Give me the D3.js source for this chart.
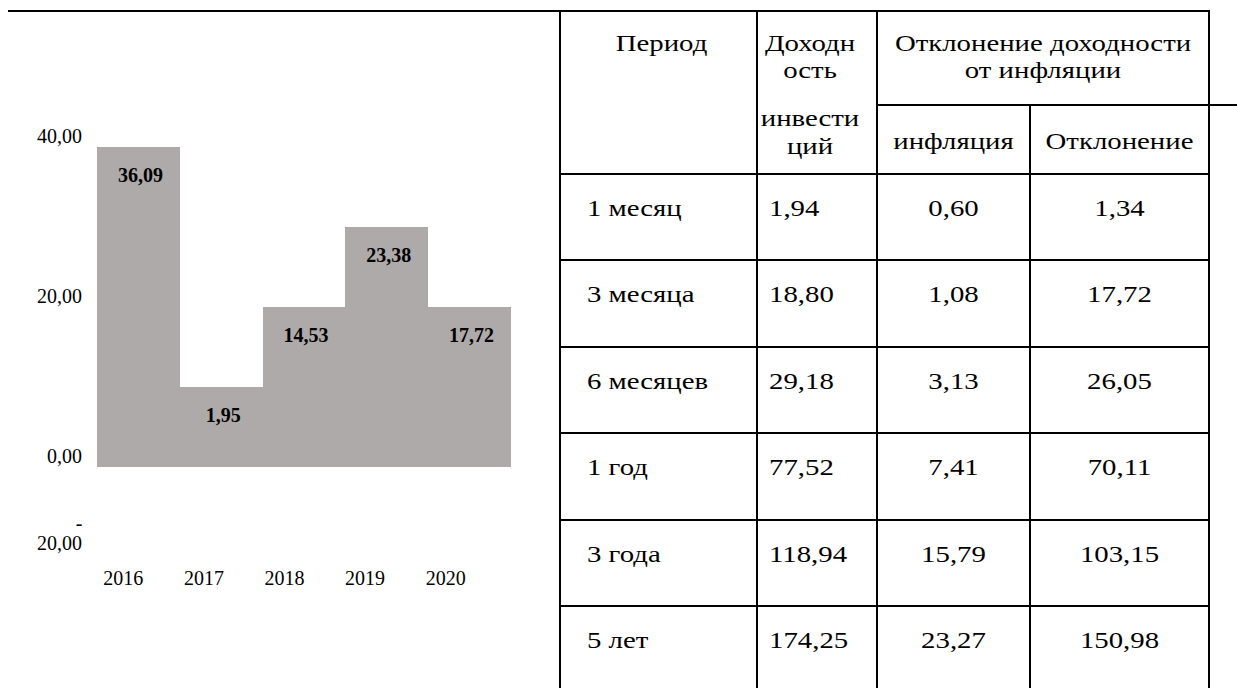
<!DOCTYPE html>
<html lang="ru">
<head>
<meta charset="utf-8">
<script src="https://cdn.jsdelivr.net/npm/d3@7"></script>
<style>
  html, body { margin: 0; padding: 0; background: #fff; }
  svg { display: block; font-family: "Liberation Serif", "Times New Roman", serif; }
</style>
</head>
<body>
<svg id="chart" width="1237" height="688"></svg>
<script>
// ---- data ----
const years = ['2016', '2017', '2018', '2019', '2020'];
const barHeights = [40, 10, 20, 30, 20];          // bar tops as drawn in the picture
const barLabels = ['36,09', '1,95', '14,53', '23,38', '17,72'];
const yTicks = [40, 20, 0, -20];

const periods = ['1 месяц', '3 месяца', '6 месяцев', '1 год', '3 года', '5 лет'];
const returns = ['1,94', '18,80', '29,18', '77,52', '118,94', '174,25'];
const inflation = ['0,60', '1,08', '3,13', '7,41', '15,79', '23,27'];
const deviation = ['1,34', '17,72', '26,05', '70,11', '103,15', '150,98'];

const svg = d3.select('#chart');
const FONT = 20;        // chart text
const TFONT = 24;       // table text
const TSTRETCH = 1.2;   // table text is rendered wide in the original
const fmt = (d) => d3.format('.2f')(Math.abs(d)).replace('.', ',');

/* ---------------- bar chart ---------------- */
const x = d3.scaleBand().domain(years).range([97, 511]).padding(0);
const xLab = d3.scaleBand().domain(years).range([83, 486]);
const y = d3.scaleLinear().domain([0, 40]).range([466.5, 146.5]);

svg.append('g')
  .selectAll('rect').data(years).enter().append('rect')
  .attr('x', (d) => x(d))
  .attr('width', x.bandwidth())
  .attr('y', (d, i) => y(barHeights[i]))
  .attr('height', (d, i) => y(0) - y(barHeights[i]))
  .attr('fill', '#aeaaaa')
  .attr('shape-rendering', 'crispEdges');

svg.append('g')
  .selectAll('text').data(years).enter().append('text')
  .attr('x', (d) => x(d) + x.bandwidth() / 2 + 2)
  .attr('y', (d, i) => y(barHeights[i]) + 35)
  .attr('text-anchor', 'middle')
  .attr('font-weight', 'bold')
  .attr('font-size', FONT)
  .text((d, i) => barLabels[i]);

// y axis (labels only)
const yAxis = svg.append('g')
  .attr('transform', 'translate(82,0)')
  .call(d3.axisLeft(y).tickValues(yTicks.filter((t) => t >= 0)).tickSize(0).tickPadding(0).tickFormat(fmt))
  .attr('font-family', null)
  .attr('font-size', FONT);
yAxis.select('.domain').remove();
yAxis.selectAll('text')
  .attr('fill', '#000')
  .attr('dy', '-0.22em');

// the negative tick wraps into two lines in the original
const neg = yTicks.filter((t) => t < 0)[0];
const negText = svg.append('text')
  .attr('text-anchor', 'end')
  .attr('font-size', FONT)
  .attr('x', 82)
  .attr('y', y(0) + 63);
negText.append('tspan').attr('x', 79).attr('text-anchor', 'middle').text('-');
negText.append('tspan').attr('x', 82).attr('dy', 20).text(fmt(neg));

// x axis (labels only)
const xAxis = svg.append('g')
  .attr('transform', 'translate(0,571)')
  .call(d3.axisBottom(xLab).tickSize(0).tickPadding(0))
  .attr('font-family', null)
  .attr('font-size', FONT);
xAxis.select('.domain').remove();
xAxis.selectAll('text').attr('fill', '#000');

/* ---------------- table ---------------- */
const colX = [560, 757, 877, 1030, 1209];
const row = d3.scaleBand().domain(periods).range([174, 174 + 86.4 * periods.length]);
const lines = svg.append('g').attr('stroke', '#000').attr('stroke-width', 2)
  .attr('shape-rendering', 'crispEdges');

// outer top line (also tops the chart cell)
lines.append('line').attr('x1', 8).attr('x2', 1210).attr('y1', 11).attr('y2', 11);
// sub-header line
lines.append('line').attr('x1', colX[2]).attr('x2', 1237).attr('y1', 105).attr('y2', 105);
// header bottom + row separators
lines.selectAll('line.row').data(periods).enter().append('line')
  .attr('class', 'row')
  .attr('x1', colX[0]).attr('x2', colX[4])
  .attr('y1', (d) => row(d)).attr('y2', (d) => row(d));
// vertical lines
lines.selectAll('line.col').data(colX).enter().append('line')
  .attr('class', 'col')
  .attr('x1', (d) => d).attr('x2', (d) => d)
  .attr('y1', (d, i) => (i === 3 ? 105 : 11)).attr('y2', 688);

const cellText = (xPos, yPos, txt, anchor = 'middle') =>
  svg.append('text')
    .attr('transform', `translate(${xPos},${yPos}) scale(${TSTRETCH},1)`)
    .attr('text-anchor', anchor)
    .attr('font-size', TFONT)
    .text(txt);

// header
cellText((colX[0] + colX[1]) / 2 + 3, 51, 'Период');
cellText(810, 51, 'Доходн');
cellText(810, 78, 'ость');
cellText(810, 126, 'инвести');
cellText(810, 154, 'ций');
cellText((colX[2] + colX[4]) / 2, 51, 'Отклонение доходности');
cellText((colX[2] + colX[4]) / 2, 78, 'от инфляции');
cellText((colX[2] + colX[3]) / 2, 149, 'инфляция');
cellText((colX[3] + colX[4]) / 2, 149, 'Отклонение');

// body
periods.forEach((p, i) => {
  const base = row(p) + 42;
  cellText(587, base, p, 'start');
  cellText(769, base, returns[i], 'start');
  cellText((colX[2] + colX[3]) / 2, base, inflation[i]);
  cellText((colX[3] + colX[4]) / 2, base, deviation[i]);
});
</script>
</body>
</html>
